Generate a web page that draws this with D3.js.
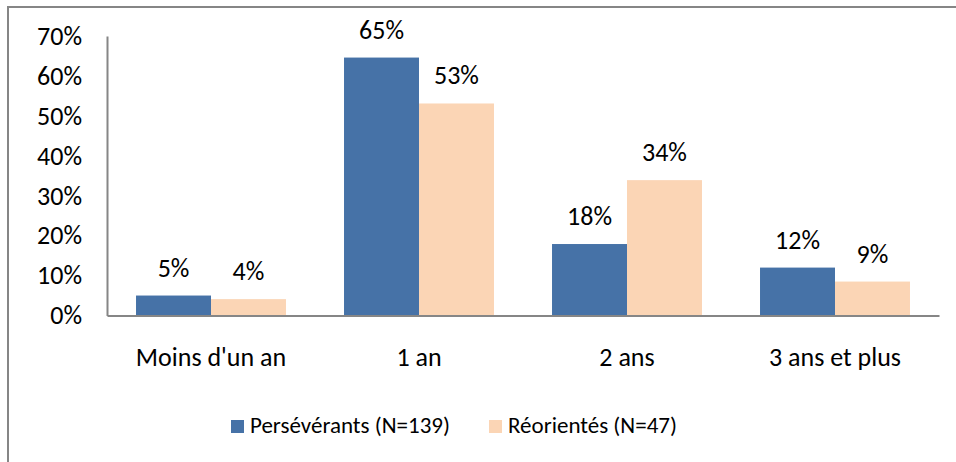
<!DOCTYPE html>
<html><head><meta charset="utf-8">
<script src="https://cdn.jsdelivr.net/npm/d3@7"></script>
<style>body{margin:0;background:#fff}text{font-family:Carlito,Calibri,"Liberation Sans",sans-serif;fill:#000}</style>
</head><body><svg id="chart" width="956" height="462"></svg>
<script>
const categories = ["Moins d'un an", "1 an", "2 ans", "3 ans et plus"];
const seriesNames = ["Persévérants (N=139)", "Réorientés (N=47)"];
const perseverants = [5.0, 64.6, 17.9, 12.0];
const reorientes = [4.1, 53.1, 33.9, 8.5];
const yTicks = [0, 10, 20, 30, 40, 50, 60, 70];
const colors = ["#4672A7", "#FBD5B5"];

const svg = d3.select("#chart");
const gray = "#868686";

// outer frame
svg.append("path").attr("d", "M8,462V7H956").attr("fill", "none").attr("stroke", gray).attr("stroke-width", 2);

const x = d3.scaleBand().domain(categories).range([107, 939]).padding(0);
const xs = d3.scaleBand().domain(seriesNames).range([0, x.bandwidth()]).paddingOuter(0.387).paddingInner(0);
const y = d3.scaleLinear().domain([0, 70]).range([315.5, 36]);

const data = categories.map((c, i) => ({cat: c, vals: [perseverants[i], reorientes[i]]}));

// y axis
const yAxis = d3.axisLeft(y).tickValues(yTicks).tickSize(0).tickPadding(25).tickFormat(d => d + "%");
const gy = svg.append("g").attr("transform", "translate(107,0)").call(yAxis);
gy.select(".domain").attr("stroke", gray).attr("stroke-width", 2);
gy.selectAll("text").attr("font-size", 26).attr("dy", "0.32em").attr("font-family", "Carlito,Calibri,sans-serif");

// bars
const groups = svg.selectAll("g.cat").data(data).join("g").attr("class", "cat")
  .attr("transform", d => `translate(${x(d.cat)},0)`);
groups.selectAll("rect").data(d => d.vals.map((v, j) => ({s: seriesNames[j], v, j})))
  .join("rect")
  .attr("x", d => xs(d.s)).attr("width", xs.bandwidth())
  .attr("y", d => y(d.v)).attr("height", d => y(0) - y(d.v))
  .attr("fill", d => colors[d.j]);
groups.selectAll("text.lbl").data(d => d.vals.map((v, j) => ({s: seriesNames[j], v, j})))
  .join("text").attr("class", "lbl")
  .attr("x", d => xs(d.s) + xs.bandwidth() / 2)
  .attr("y", d => y(d.v) - 19)
  .attr("text-anchor", "middle").attr("font-size", 26)
  .text(d => Math.round(d.v) + "%");

// x axis
const xAxis = d3.axisBottom(x).tickSize(0).tickPadding(0);
const gx = svg.append("g").attr("transform", `translate(0,${y(0)})`).call(xAxis);
gx.select(".domain").attr("stroke", gray).attr("stroke-width", 2);
gx.selectAll("text").attr("font-size", 26).attr("dy", null).attr("y", 50.5).attr("font-family", "Carlito,Calibri,sans-serif");

// legend
const legendX = [231, 489];
const lg = svg.append("g");
seriesNames.forEach((s, j) => {
  lg.append("rect").attr("x", legendX[j]).attr("y", 420).attr("width", 13).attr("height", 13).attr("fill", colors[j]);
  lg.append("text").attr("x", legendX[j] + 19).attr("y", 433).attr("font-size", 23).text(s);
});
</script></body></html>
